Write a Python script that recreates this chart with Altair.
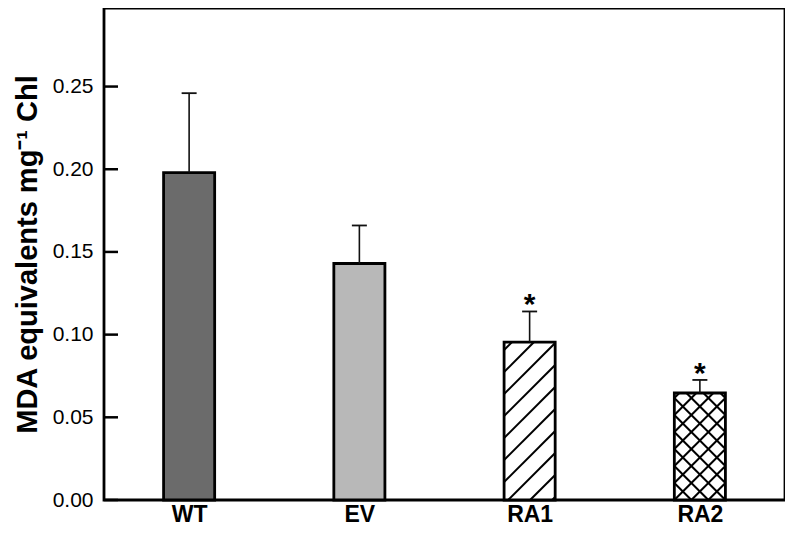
import altair as alt
import pandas as pd
import numpy as np

# ---- data ----
groups = ["WT", "EV", "RA1", "RA2"]
means = [0.198, 0.143, 0.0955, 0.0647]
errors = [0.048, 0.023, 0.0185, 0.0079]
fills = ["#6b6b6b", "#b8b8b8", "#ffffff", "#ffffff"]
stars = ["", "", "*", "*"]
y_ticks = [0.00, 0.05, 0.10, 0.15, 0.20, 0.25]
hatch_kind = ["", "", "diag", "cross"]

# ---- layout ----
W, H = 681, 492
YMAX = 0.2975
HALF = 0.15          # half bar width in category units
PX_X = W / 4.0
PX_Y = H / YMAX

df = pd.DataFrame({
    "group": groups,
    "idx": [i + 0.5 for i in range(len(groups))],
    "mean": means,
    "err": errors,
    "fill": fills,
    "star": stars,
})
df["zero"] = 0.0
df["x0"] = df["idx"] - HALF
df["x1"] = df["idx"] + HALF
df["top"] = df["mean"] + df["err"]
df["c0"] = df["idx"] - 7.5 / PX_X
df["c1"] = df["idx"] + 7.5 / PX_X


def hatch_segments(i, value, spacing, phase, mirror):
    w = 2 * HALF * PX_X
    h = value * PX_Y
    segs = []
    k = int(np.floor((-w - phase) / spacing)) - 1
    while True:
        c = phase + k * spacing
        k += 1
        if c >= h:
            break
        if c <= -w:
            continue
        u0 = max(0.0, -c)
        u1 = min(w, h - c)
        if u1 <= u0:
            continue
        v0, v1 = u0 + c, u1 + c
        if mirror:
            u0, u1 = w - u0, w - u1
        left = i + 0.5 - HALF
        segs.append({"hx": left + u0 / PX_X, "hx2": left + u1 / PX_X,
                     "hy": v0 / PX_Y, "hy2": v1 / PX_Y})
    return segs


hatch_rows = []
for i, kind in enumerate(hatch_kind):
    if kind == "diag":
        hatch_rows += hatch_segments(i, means[i], 22.0, -4.0, False)
    elif kind == "cross":
        hatch_rows += hatch_segments(i, means[i], 17.0, 0.0, False)
        hatch_rows += hatch_segments(i, means[i], 17.0, 0.0, True)
hatch_df = pd.DataFrame(hatch_rows)

xscale = alt.Scale(domain=[0, 4], nice=False, zero=False)
yscale = alt.Scale(domain=[0, YMAX], nice=False, zero=True)

x_axis = alt.Axis(values=[0.5, 1.5, 2.5, 3.5],
                  labelExpr="['WT','EV','RA1','RA2'][floor(datum.value)]",
                  ticks=False, domain=False, grid=False, title=None,
                  labelFont="Liberation Sans", labelFontSize=23,
                  labelFontWeight="bold", labelColor="black", labelPadding=3)
y_axis = alt.Axis(values=y_ticks, format=".2f", ticks=False, domain=False,
                  grid=False, title="MDA equivalents mg⁻¹ Chl",
                  titleFont="Liberation Sans", titleFontSize=29,
                  titleFontWeight="bold", titleColor="black", titlePadding=10,
                  labelFont="Liberation Sans", labelFontSize=21,
                  labelColor="black", labelPadding=11)

base = alt.Chart(df)

bars = base.mark_bar(stroke=None).encode(
    x=alt.X("x0:Q", scale=xscale, axis=x_axis),
    x2="x1:Q",
    y=alt.Y("mean:Q", scale=yscale, axis=y_axis),
    y2="zero:Q",
    color=alt.Color("fill:N", scale=None),
)

hatch = alt.Chart(hatch_df).mark_rule(color="black", strokeWidth=2).encode(
    x=alt.X("hx:Q", scale=xscale),
    x2="hx2:Q",
    y=alt.Y("hy:Q", scale=yscale),
    y2="hy2:Q",
)

outline = base.mark_bar(fill=None, filled=False, stroke="black",
                        strokeWidth=2.8).encode(
    x=alt.X("x0:Q", scale=xscale),
    x2="x1:Q",
    y=alt.Y("mean:Q", scale=yscale),
    y2="zero:Q",
)

err = base.mark_rule(color="#111111", strokeWidth=1.6).encode(
    x=alt.X("idx:Q", scale=xscale),
    y=alt.Y("mean:Q", scale=yscale),
    y2="top:Q",
)

caps = base.mark_rule(color="#111111", strokeWidth=1.8).encode(
    x=alt.X("c0:Q", scale=xscale),
    x2="c1:Q",
    y=alt.Y("top:Q", scale=yscale),
)

star_text = base.mark_text(font="Liberation Sans", fontSize=30,
                           fontWeight="bold", color="black",
                           baseline="alphabetic", align="center", dy=3).encode(
    x=alt.X("idx:Q", scale=xscale),
    y=alt.Y("top:Q", scale=yscale),
    text="star:N",
)

tick_df = pd.DataFrame({"t": y_ticks})
inner_ticks = alt.Chart(tick_df).mark_rule(color="black", strokeWidth=2.5).encode(
    y=alt.Y("t:Q", scale=yscale),
    x=alt.value(0),
    x2=alt.value(14),
)

chart = alt.layer(bars, hatch, outline, err, caps, star_text, inner_ticks).properties(
    width=W, height=H,
    background="white",
    autosize=alt.AutoSizeParams(type="none"),
    padding={"left": 96, "top": 0, "right": 0, "bottom": 28},
).configure_view(stroke="black", strokeWidth=2.8)

chart.save("out.html", embed_options={"renderer": "svg", "actions": False})
